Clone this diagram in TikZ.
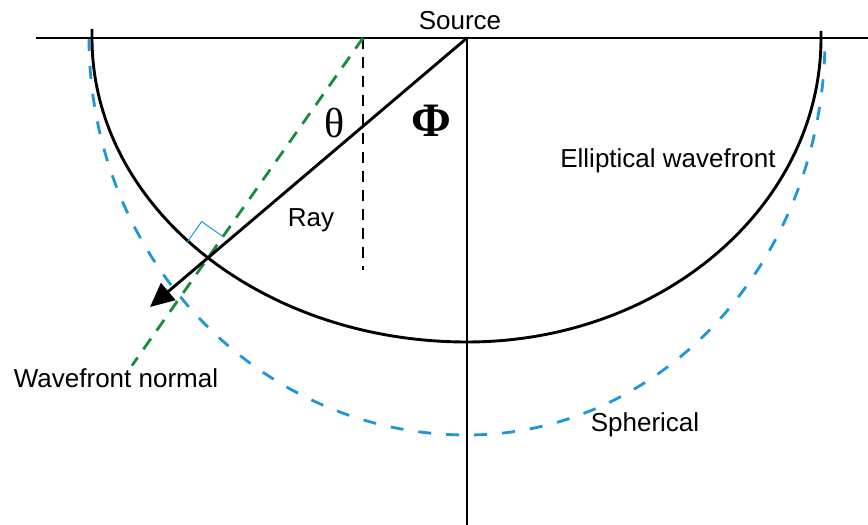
\documentclass[tikz,border=0pt]{standalone}
\usepackage{fontspec}
\setmainfont{Liberation Sans}
\newfontfamily\serifgreek{Liberation Serif}
\usetikzlibrary{calc,intersections,arrows.meta}
\definecolor{sphblue}{RGB}{30,150,215}
\definecolor{normgreen}{RGB}{25,140,60}

\begin{document}
\begin{tikzpicture}[x=1pt,y=1pt,
  lbl/.style={font=\fontsize{26}{30}\selectfont, anchor=base},
  front/.style={line width=2.9pt},
  sph/.style={sphblue, line width=2.8pt, dash pattern=on 13pt off 15pt},
  wnormal/.style={normgreen, line width=2.8pt, dash pattern=on 13pt off 10pt}]
  \useasboundingbox (0,0) rectangle (868,525);
  \coordinate (S) at (467,487);
  \coordinate (L) at (36,487);
  \coordinate (R) at (868,487);
  \coordinate (T) at (150,218);
  \coordinate (G) at (363,487);

  \draw[sph] (89,487) arc[start angle=180, end angle=270, x radius=378, y radius=397]
    arc[start angle=270, end angle=360, x radius=358, y radius=397];
  \draw[front, name path=ellipse] (92,496) -- (92,487)
    arc[start angle=180, end angle=270, x radius=375, y radius=304]
    arc[start angle=270, end angle=360, x radius=354, y radius=304] -- (821,494);
  \draw[line width=1.5pt] (S) -- (467,0);
  \draw[front] (L) -- (R);
  \draw[line width=1.9pt, dash pattern=on 11pt off 8pt] (G) -- (363,255);

  \path[name path=ray] (S) -- (T);
  \path[name intersections={of=ellipse and ray, by=P}];
  \draw[wnormal] (G) -- ($(G)!1.49!(P)$);
  \draw[front, -{Triangle[length=24pt,width=22pt]}] (S) -- (T);

  \coordinate (A1) at ($(P)!26pt!(G)$);
  \coordinate (A2) at ($(P)!26pt!90:(G)$);
  \draw[sphblue, line width=1pt] (A2) -- ($(A1)+(A2)-(P)$) -- (A1);

  \node[lbl] (src) at (460,495) {Source};
  \node[lbl] (ell) at (668,357) {Elliptical wavefront};
  \node[lbl] (raylbl) at (311,298) {Ray};
  \node[lbl] (wn) at (116,137) {Wavefront normal};
  \node[lbl] (sphl) at (645,93) {Spherical};
  \node[font=\serifgreek\fontsize{42}{46}\selectfont] (theta) at (335,402) {θ};
  \node[font=\serifgreek\bfseries\fontsize{48}{52}\selectfont] (phi) at (431,404) {Φ};
\end{tikzpicture}
\end{document}
